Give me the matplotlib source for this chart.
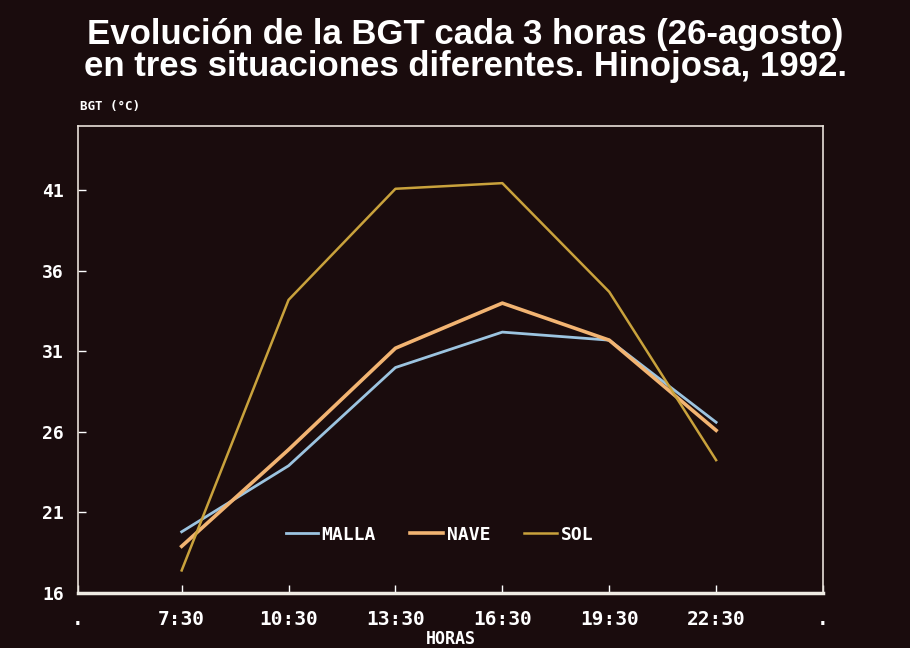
import matplotlib
matplotlib.use('Agg')
import matplotlib.pyplot as plt

# Datos
horas = ['7:30', '10:30', '13:30', '16:30', '19:30', '22:30']
malla = [19.8, 23.9, 30.0, 32.2, 31.7, 26.6]
nave = [18.9, 24.9, 31.2, 34.0, 31.7, 26.1]
sol = [17.4, 34.2, 41.1, 41.45, 34.7, 24.25]
yticks = [16, 21, 26, 31, 36, 41]

fondo = '#1a0c0d'
mono = 'DejaVu Sans Mono'

fig = plt.figure(figsize=(9.1, 6.48), dpi=100, facecolor=fondo)
ax = fig.add_axes([0.0857, 0.0849, 0.8187, 0.7207], facecolor=fondo)

x = list(range(len(horas)))
ax.plot(x, malla, color='#9cc4e0', lw=2, label='MALLA')
ax.plot(x, nave, color='#f2b472', lw=2.6, label='NAVE')
ax.plot(x, sol, color='#c9a23c', lw=1.8, label='SOL')

ax.set_xlim(-0.97, 6)
ax.set_ylim(16, 45)
ax.set_xticks([-0.97] + x + [6])
ax.set_xticklabels(['.'] + horas + ['.'], fontfamily=mono, fontweight='bold',
                   fontsize=14, color='white')
ax.set_yticks(yticks)
ax.set_yticklabels([str(v) for v in yticks], fontfamily=mono, fontweight='bold',
                   fontsize=13, color='white')
ax.tick_params(axis='both', direction='in', colors='white', length=6, width=1)
ax.tick_params(axis='x', pad=12)
ax.tick_params(axis='y', pad=10)

for lado in ['top', 'right', 'left']:
    ax.spines[lado].set_color('#e8e0d8')
    ax.spines[lado].set_linewidth(1.2)
ax.spines['bottom'].set_color('#f0ece4')
ax.spines['bottom'].set_linewidth(2.5)

ax.set_xlabel('HORAS', fontfamily=mono, fontweight='bold', fontsize=12,
              color='white', labelpad=1)
fig.text(0.088, 0.83, 'BGT (°C)', fontfamily=mono, fontweight='bold',
         fontsize=9, color='white')

leg = ax.legend(loc='center', bbox_to_anchor=(0.485, 0.125), ncol=3,
                frameon=False, handlelength=1.8, columnspacing=1.9,
                handletextpad=0.2,
                prop={'family': mono, 'weight': 'bold', 'size': 13})
for t in leg.get_texts():
    t.set_color('white')

fig.text(0.511, 0.946, 'Evolución de la BGT cada 3 horas (26-agosto)',
         ha='center', va='center', fontsize=25, fontweight='bold',
         fontfamily='Liberation Sans', color='white')
fig.text(0.512, 0.897, 'en tres situaciones diferentes. Hinojosa, 1992.',
         ha='center', va='center', fontsize=25, fontweight='bold',
         fontfamily='Liberation Sans', color='white')

fig.savefig('out.png', dpi=100, facecolor=fondo)
